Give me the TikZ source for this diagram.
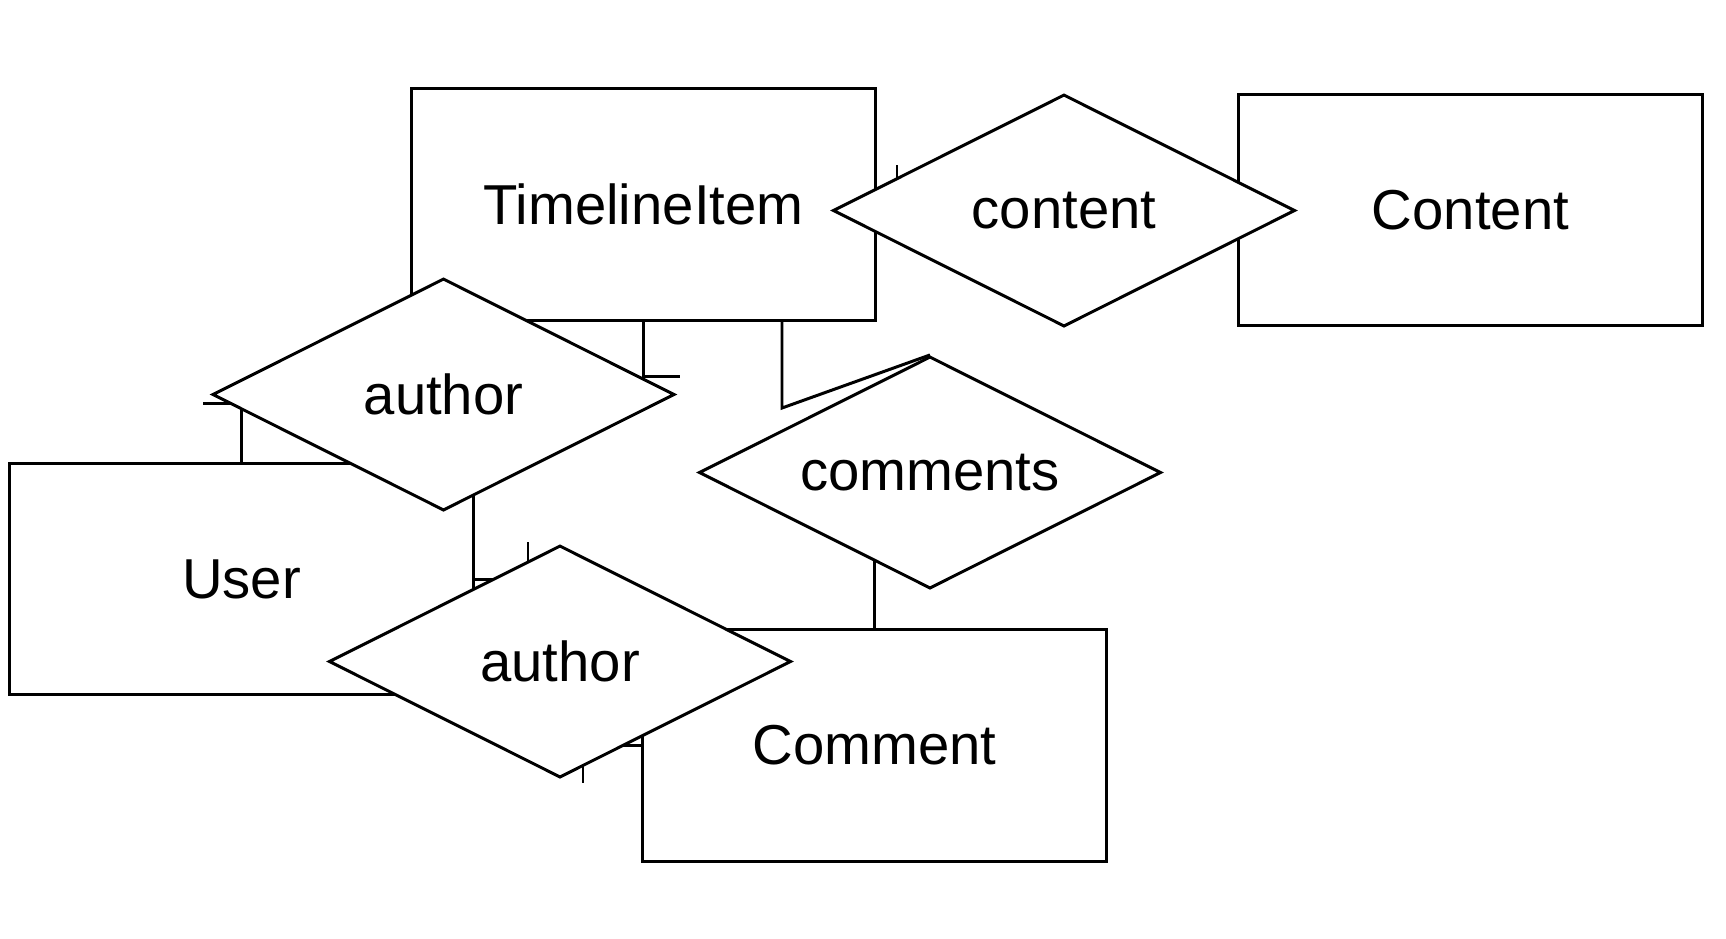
\documentclass[tikz,border=0pt]{standalone}
\usepackage{fontspec}
\setmainfont{Liberation Sans}
\usetikzlibrary{shapes.geometric,backgrounds}

\begin{document}
\begin{tikzpicture}[x=0.01cm, y=-0.01cm,
    every node/.style={font=\fontsize{16}{19}\selectfont},
    entity/.style={draw, fill=white, line width=0.85pt, minimum width=4.63cm,
                   minimum height=2.31cm, inner sep=0pt},
    rel/.style={draw, diamond, aspect=2, fill=white, line width=0.85pt,
                minimum width=4.62cm, minimum height=2.32cm, inner sep=0pt},
    link/.style={line width=0.85pt},
]
\useasboundingbox (0,0) rectangle (1726,938);
% Entities (absolute coords)
\node[entity] (ti)  at (643.5,204.5) {TimelineItem};
\node[entity] (ct)  at (1470.5,210)  {Content};
\node[entity] (usr) at (241.5,579)   {User};
\node[entity] (cm)  at (874.5,745.5) {Comment};
% Relationships
\node[rel] (rcont) at (1064,210.5) {content};
\node[rel] (rauth) at (443.5,394.5) {author};
\node[rel] (rcomm) at (930,472.5)  {comments};
\node[rel] (rcauth) at (560,661.5) {author};
% Bend points of the connectors
\coordinate (ga) at (897,165);
\coordinate (aa) at (680,376);
\coordinate (ab) at (203,403);
\coordinate (ea) at (782,408);
\coordinate (ca) at (528,542);
\coordinate (da) at (583,783);
% Connectors (under the shapes)
\begin{scope}[on background layer]
\draw[link] (ti.east) -| (ga);
\draw[link] (rcont) -- (ct);
\draw[link] (ti.south) |- (aa);
\draw[link] (usr.north) |- (ab);
\draw[link] (ti.south -| ea) -- (ea) -- (rcomm.north);
\draw[link] (cm.north) -- (cm.north |- rcomm.center);
\draw[link] (usr.east) -| (ca);
\draw[link] (cm.west) -| (da);
\end{scope}
\end{tikzpicture}
\end{document}
